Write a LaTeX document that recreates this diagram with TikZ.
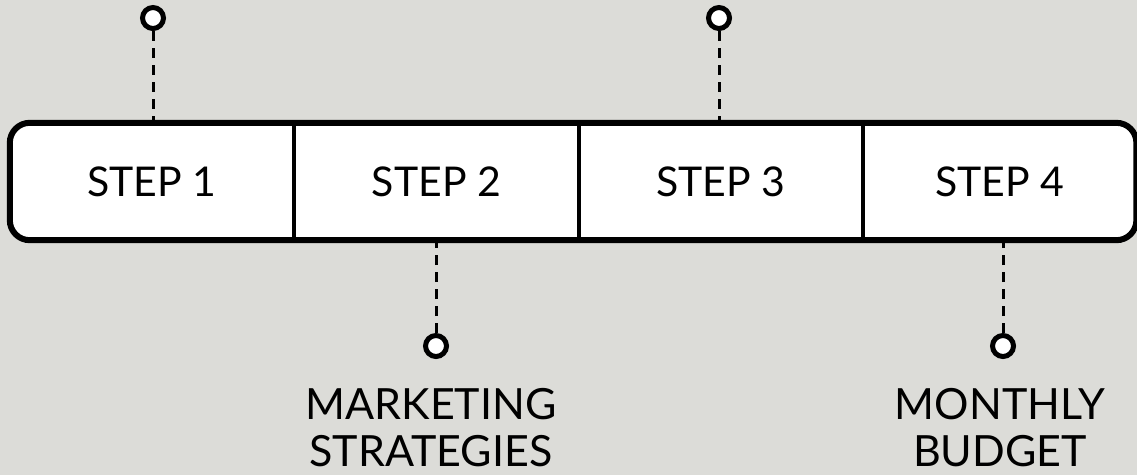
\documentclass[tikz,border=0pt]{standalone}
\usepackage{fontspec}
\setmainfont{Lato}
\usetikzlibrary{positioning, backgrounds}
\definecolor{bggray}{RGB}{220,220,216}
\begin{document}
\begin{tikzpicture}[x=1pt,y=-1pt]

\tikzset{stepbox/.style = {shape=rectangle,inner sep=0pt,minimum height=117pt,font=\fontsize{41}{48}\selectfont}}
\tikzset{pindot/.style = {shape=circle,draw,fill=white,line width=5pt,inner sep=0pt,minimum size=21pt}}
\tikzset{leader/.style = {line width=3pt,dash pattern=on 10pt off 7pt}}
\tikzset{note/.style = {align=center,font=\fontsize{43}{47}\selectfont}}
\useasboundingbox (0,0) rectangle (1137,475);
% steps
\node[stepbox, minimum width=284pt] (s1) at (152,181.5) {STEP 1};
\node[stepbox, minimum width=284pt, right=0pt of s1] (s2) {STEP 2};
\node[stepbox, minimum width=284pt, right=0pt of s2] (s3) {STEP 3};
\node[stepbox, minimum width=273pt, right=0pt of s3] (s4) {STEP 4};
\begin{scope}[on background layer]
\fill[bggray] (0,0) rectangle (1137,475);
\fill[white, rounded corners=20pt] (s1.north west) rectangle (s4.south east);
\end{scope}
\draw[line width=6pt, rounded corners=20pt] (s1.north west) rectangle (s4.south east);
\draw[line width=4pt] (s1.north east) -- (s1.south east);
\draw[line width=4pt] (s2.north east) -- (s2.south east);
\draw[line width=4pt] (s3.north east) -- (s3.south east);
% pins
\node[pindot] (t1) at (153,18) {};
\node[pindot] (t3) at (719,18) {};
\node[pindot] (b2) at (436,346) {};
\node[pindot] (b4) at (1003,346) {};
\draw[leader] (t1) -- (t1 |- s1.north);
\draw[leader] (t3) -- (t3 |- s3.north);
\draw[leader] (b2) -- (b2 |- s2.south);
\draw[leader] (b4) -- (b4 |- s4.south);
% labels
\node[note, below=26pt of b2.south, anchor=north, xshift=-5pt] (m2) {MARKETING\\STRATEGIES};
\node[note, below=26pt of b4.south, anchor=north, xshift=-3pt] (m4) {MONTHLY\\BUDGET};
\end{tikzpicture}
\end{document}
